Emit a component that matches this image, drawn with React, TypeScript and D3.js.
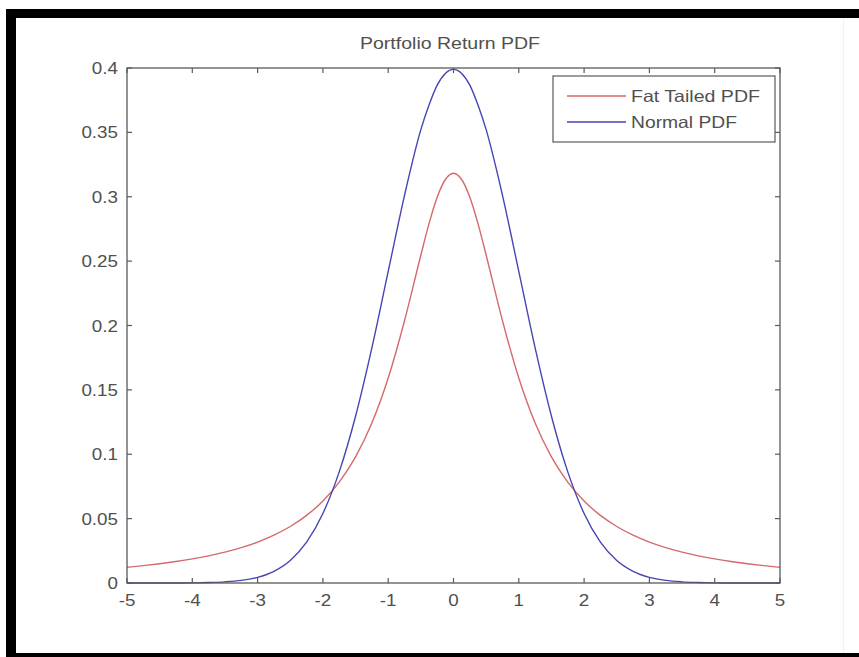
import React from "react";
import * as d3 from "d3";

const xs = [-5,-4.75,-4.5,-4.25,-4,-3.75,-3.5,-3.25,-3,-2.75,-2.5,-2.25,-2,-1.75,-1.5,-1.25,-1,-0.75,-0.5,-0.375,-0.25,-0.125,0,0.125,0.25,0.375,0.5,0.75,1,1.25,1.5,1.75,2,2.25,2.5,2.75,3,3.25,3.5,3.75,4,4.25,4.5,4.75,5];
const fatTailed = [0.0122,0.0135,0.0150,0.0167,0.0187,0.0211,0.0240,0.0275,0.0318,0.0372,0.0439,0.0525,0.0637,0.0784,0.0979,0.1242,0.1592,0.2037,0.2546,0.2791,0.2996,0.3134,0.3183,0.3134,0.2996,0.2791,0.2546,0.2037,0.1592,0.1242,0.0979,0.0784,0.0637,0.0525,0.0439,0.0372,0.0318,0.0275,0.0240,0.0211,0.0187,0.0167,0.0150,0.0135,0.0122];
const normal = [0,0,0,0,0.0001,0.0004,0.0009,0.0020,0.0044,0.0091,0.0175,0.0317,0.0540,0.0863,0.1295,0.1826,0.2420,0.3011,0.3521,0.3712,0.3867,0.3958,0.3989,0.3958,0.3867,0.3712,0.3521,0.3011,0.2420,0.1826,0.1295,0.0863,0.0540,0.0317,0.0175,0.0091,0.0044,0.0020,0.0009,0.0004,0.0001,0,0,0,0];
const xTicks = [-5,-4,-3,-2,-1,0,1,2,3,4,5];
const yTicks = [0,0.05,0.1,0.15,0.2,0.25,0.3,0.35,0.4];
const title = "Portfolio Return PDF";
const seriesNames = ["Fat Tailed PDF", "Normal PDF"];

export default function App() {
  const W = 859, H = 657;
  const L = 127, R = 780, T = 68, B = 583;
  const x = d3.scaleLinear().domain([-5, 5]).range([L, R]);
  const y = d3.scaleLinear().domain([0, 0.4]).range([B, T]);
  const line = d3.line<number>().x((_, i) => x(xs[i])).y((d) => y(d)).curve(d3.curveMonotoneX);
  const font = "'Liberation Sans', Arial, sans-serif";
  const axisColor = "#5a5a5a";
  const textColor = "#505050";
  const red = "#d46a6a";
  const blue = "#4646b4";
  const tl = 5;
  const fmt = (v: number) => String(+v.toFixed(2));
  const sx = 1.14;
  return (
    <svg width={W} height={H} style={{ position: "absolute", left: 0, top: 0, background: "#fff" }} fontFamily={font}>
      <rect x={0} y={0} width={W} height={H} fill="#fff" />
      <rect x={843} y={18} width={1} height={635} fill="#f2f2f2" />
      <text x={360} y={49} fontSize={17} fill={textColor} textLength={180} lengthAdjust="spacingAndGlyphs">{title}</text>
      <path d={line(fatTailed) || ""} fill="none" stroke={red} strokeWidth={1.4} />
      <path d={line(normal) || ""} fill="none" stroke={blue} strokeWidth={1.4} />
      <rect x={L} y={T} width={R - L} height={B - T} fill="none" stroke={axisColor} strokeWidth={1.3} />
      {xTicks.map((t) => (
        <g key={"x" + t}>
          <line x1={x(t)} x2={x(t)} y1={B} y2={B - tl} stroke={axisColor} strokeWidth={1.2} />
          <line x1={x(t)} x2={x(t)} y1={T} y2={T + tl} stroke={axisColor} strokeWidth={1.2} />
          <g transform={`translate(${x(t)},606) scale(${sx},1)`}>
            <text x={0} y={0} textAnchor="middle" fontSize={16.5} fill={textColor}>{t}</text>
          </g>
        </g>
      ))}
      {yTicks.map((t) => (
        <g key={"y" + t}>
          <line x1={L} x2={L + tl} y1={y(t)} y2={y(t)} stroke={axisColor} strokeWidth={1.2} />
          <line x1={R} x2={R - tl} y1={y(t)} y2={y(t)} stroke={axisColor} strokeWidth={1.2} />
          <g transform={`translate(118,${y(t) + 6}) scale(${sx},1)`}>
            <text x={0} y={0} textAnchor="end" fontSize={16.5} fill={textColor}>{fmt(t)}</text>
          </g>
        </g>
      ))}
      <rect x={553} y={76} width={222} height={66} fill="#fff" stroke={axisColor} strokeWidth={1.2} />
      <line x1={567} x2={626} y1={96} y2={96} stroke={red} strokeWidth={1.4} />
      <line x1={567} x2={626} y1={122} y2={122} stroke={blue} strokeWidth={1.4} />
      <text x={631} y={102} fontSize={16.5} fill={textColor} textLength={129} lengthAdjust="spacingAndGlyphs">{seriesNames[0]}</text>
      <text x={631} y={128} fontSize={16.5} fill={textColor} textLength={106} lengthAdjust="spacingAndGlyphs">{seriesNames[1]}</text>
      <rect x={6} y={9} width={W - 6} height={9} fill="#000" />
      <rect x={6} y={9} width={10} height={H - 9} fill="#000" />
      <rect x={6} y={653} width={W - 6} height={4} fill="#000" />
    </svg>
  );
}
